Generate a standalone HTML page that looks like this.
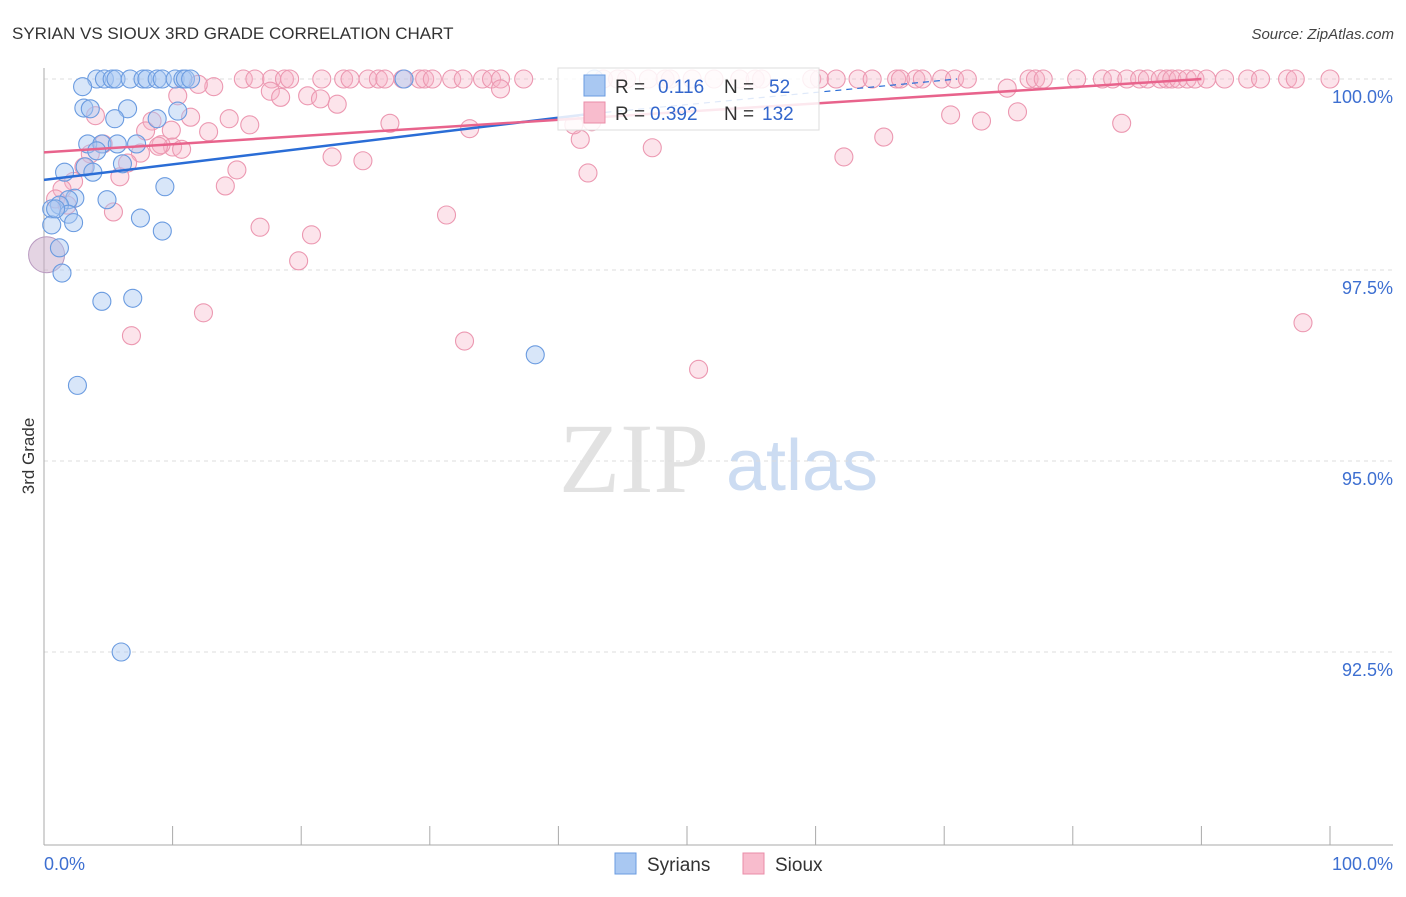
<!DOCTYPE html>
<html><head><meta charset="utf-8">
<style>
body{margin:0;background:#fff;font-family:"Liberation Sans",sans-serif;}
svg text{font-family:"Liberation Sans",sans-serif;}
</style></head>
<body>
<svg id="chart" width="1406" height="892" viewBox="0 0 1406 892" xmlns="http://www.w3.org/2000/svg">
<text x="12" y="39" font-size="17" fill="#333">SYRIAN VS SIOUX 3RD GRADE CORRELATION CHART</text>
<text x="1394" y="39" font-size="15" fill="#444" text-anchor="end" font-style="italic">Source: ZipAtlas.com</text>
<g>
<text x="634" y="492" font-size="100" fill="#e2e2e2" text-anchor="middle" style="font-family:'Liberation Serif',serif">ZIP</text>
<text x="802" y="490" font-size="72" fill="#ccdcf2" text-anchor="middle">atlas</text>
</g>
<g id="grid"></g>
<g id="axes"></g>
<g id="points"></g>
<g id="trends"></g>
<text transform="translate(34,456) rotate(-90)" font-size="17" fill="#333" text-anchor="middle">3rd Grade</text>
<g>
<rect x="558" y="68" width="261" height="62" fill="#fff" fill-opacity="0.85" stroke="#ddd"/>
<rect x="584" y="75" width="21" height="21" fill="#a9c8f2" stroke="#6a9be0"/>
<text x="615" y="93" font-size="19" fill="#333">R = </text><text x="658" y="93" font-size="19" fill="#3366cc">0.116</text>
<text x="724" y="93" font-size="19" fill="#333">N = </text><text x="769" y="93" font-size="19" fill="#3366cc">52</text>
<rect x="584" y="102" width="21" height="21" fill="#f8bccd" stroke="#ea8ca8"/>
<text x="615" y="120" font-size="19" fill="#333">R = </text><text x="650" y="120" font-size="19" fill="#3366cc">0.392</text>
<text x="724" y="120" font-size="19" fill="#333">N = </text><text x="762" y="120" font-size="19" fill="#3366cc">132</text>
</g>
<g>
<rect x="615" y="853" width="21" height="21" fill="#a9c8f2" stroke="#6a9be0"/>
<text x="647" y="871" font-size="19" fill="#333">Syrians</text>
<rect x="743" y="853" width="21" height="21" fill="#f8bccd" stroke="#ea8ca8"/>
<text x="775" y="871" font-size="19" fill="#333">Sioux</text>
</g>
</svg>
<script>
const yTicks=[100,97.5,95,92.5];
const yTickLabels=["100.0%","97.5%","95.0%","92.5%"];
const xTicks=[0,10,20,30,40,50,60,70,80,90,100];
const xEndLabels=["0.0%","100.0%"];
const syrX=[4.1,4.7,5.3,5.6,6.7,7.7,8.0,8.8,9.2,10.2,10.8,11.0,11.4,28.0,42.8,3.0,3.1,3.6,6.5,10.4,8.8,5.5,3.4,4.5,5.7,7.2,4.1,6.1,3.2,1.6,3.8,9.4,4.9,2.4,1.9,1.2,0.6,1.9,7.5,0.6,2.3,9.2,1.2,1.4,4.5,6.9,38.2,2.6,6.0,0.9];
const syrY=[100,100,100,100,100,100,100,100,100,100,100,100,100,100,100,99.9,99.62,99.61,99.61,99.58,99.48,99.48,99.15,99.15,99.15,99.15,99.06,98.89,98.85,98.78,98.78,98.59,98.42,98.44,98.42,98.35,98.30,98.23,98.18,98.09,98.12,98.01,97.79,97.46,97.09,97.13,96.39,95.99,92.50,98.3];
const siouxX=[15.5,16.4,17.7,18.7,19.1,21.6,23.3,23.8,25.2,26.0,26.5,27.9,29.2,29.6,30.2,31.7,32.6,34.1,34.8,35.5,37.3,43.5,44.6,45.3,47.0,48.3,48.7,50.4,52.1,54.1,55.3,55.8,59.7,60.3,61.6,63.3,64.4,66.3,66.6,67.8,68.3,69.8,70.8,71.8,76.6,77.1,77.7,80.3,82.3,83.1,84.2,85.2,85.8,86.8,87.3,87.7,88.2,88.9,89.5,90.4,91.8,93.6,94.6,96.7,97.3,100,
10.4,13.2,12.0,17.6,18.4,20.5,21.5,22.8,74.9,35.5,4.0,8.4,11.4,14.4,16.0,12.8,7.9,9.9,10.0,9.1,8.9,10.7,7.5,4.6,3.6,6.5,5.9,3.1,2.3,1.4,0.9,1.8,22.4,24.8,15.0,14.1,5.4,16.8,20.8,19.8,31.3,41.7,42.3,47.3,62.2,65.3,70.5,72.9,75.7,83.8,33.1,26.9,42.6,41.2,6.8,12.4,32.7,50.9,97.9];
const siouxY=[100,100,100,100,100,100,100,100,100,100,100,100,100,100,100,100,100,100,100,100,100,100,100,100,100,100,100,100,100,100,100,100,100,100,100,100,100,100,100,100,100,100,100,100,100,100,100,100,100,100,100,100,100,100,100,100,100,100,100,100,100,100,100,100,100,100,
99.78,99.9,99.93,99.84,99.76,99.78,99.74,99.67,99.88,99.87,99.52,99.45,99.5,99.48,99.4,99.31,99.32,99.33,99.11,99.14,99.12,99.08,99.03,99.15,99.02,98.9,98.72,98.85,98.66,98.56,98.43,98.35,98.98,98.93,98.81,98.6,98.26,98.06,97.96,97.62,98.22,99.21,98.77,99.1,98.98,99.24,99.53,99.45,99.57,99.42,99.35,99.42,99.44,99.4,96.64,96.94,96.57,96.2,96.81];
const syrTrendX=[0,42.8,71];
const syrTrendY=[98.68,99.55,100];
const siouxTrendX=[0,90];
const siouxTrendY=[99.04,100];

const NS="http://www.w3.org/2000/svg";
const X0=44,XS=12.86,Y0=79,YS=76.4;
function sx(v){return X0+v*XS;}
function sy(v){return Y0+(100-v)*YS;}
function mk(tag,attrs,parent){const e=document.createElementNS(NS,tag);for(const k in attrs)e.setAttribute(k,attrs[k]);parent.appendChild(e);return e;}
const grid=document.getElementById('grid'),axes=document.getElementById('axes'),pts=document.getElementById('points'),tr=document.getElementById('trends');
yTicks.forEach((t,i)=>{
 const l=mk('line',{x1:44,x2:1393,y1:sy(t),y2:sy(t),stroke:'#ddd','stroke-dasharray':'4,4'},grid);
 
 
 const tx=mk('text',{x:1393,y:sy(t)+24,'font-size':18,fill:'#3d6fd1','text-anchor':'end'},axes);
 tx.textContent=yTickLabels[i];
 
 
});
const ya=mk('line',{x1:44,x2:44,y1:68,y2:845,stroke:'#aaa'},axes);


const xa=mk('line',{x1:44,x2:1393,y1:845,y2:845,stroke:'#aaa'},axes);


xTicks.forEach(t=>{
 const l=mk('line',{x1:sx(t),x2:sx(t),y1:826,y2:845,stroke:'#aaa'},axes);
 
 
});
const xl0=mk('text',{x:44,y:870,'font-size':18,fill:'#3d6fd1'},axes);xl0.textContent=xEndLabels[0];


const xl1=mk('text',{x:1393,y:870,'font-size':18,fill:'#3d6fd1','text-anchor':'end'},axes);xl1.textContent=xEndLabels[1];


const big=mk('circle',{cx:sx(0.2),cy:sy(97.7),r:18,fill:'#c9a9c8','fill-opacity':0.5,stroke:'#b99ac0'},pts);


siouxX.forEach((x,i)=>{
 const c=mk('circle',{cx:sx(x),cy:sy(siouxY[i]),r:9,fill:'#f7b3c6','fill-opacity':0.35,stroke:'#ec98b1','stroke-width':1.1},pts);
 
 
});
syrX.forEach((x,i)=>{
 const c=mk('circle',{cx:sx(x),cy:sy(syrY[i]),r:9,fill:'#a9c8f2','fill-opacity':0.45,stroke:'#6a9be0','stroke-width':1.1},pts);
 
 
});
const st=mk('line',{x1:sx(syrTrendX[0]),y1:sy(syrTrendY[0]),x2:sx(syrTrendX[1]),y2:sy(syrTrendY[1]),stroke:'#2a6dd6','stroke-width':2.5},tr);


const sd=mk('line',{x1:sx(syrTrendX[1]),y1:sy(syrTrendY[1]),x2:sx(syrTrendX[2]),y2:sy(syrTrendY[2]),stroke:'#2a6dd6','stroke-width':1.2,'stroke-dasharray':'6,5'},tr);


const pt=mk('line',{x1:sx(siouxTrendX[0]),y1:sy(siouxTrendY[0]),x2:sx(siouxTrendX[1]),y2:sy(siouxTrendY[1]),stroke:'#e8638c','stroke-width':2.5},tr);


</script>
</body></html>
